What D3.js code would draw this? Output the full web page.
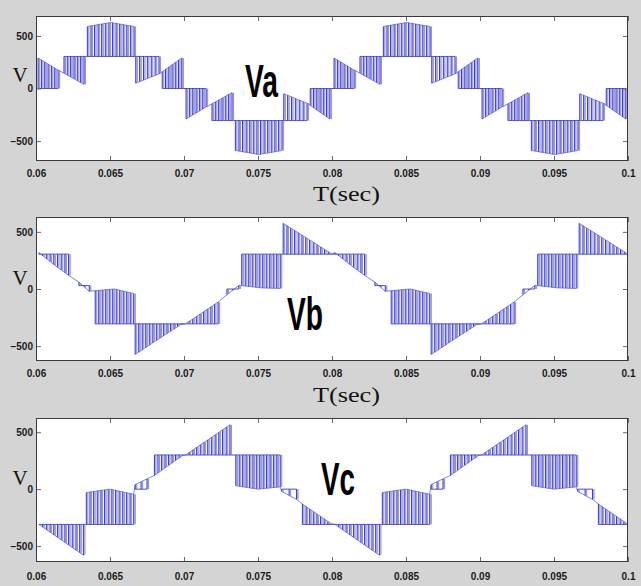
<!DOCTYPE html>
<html>
<head>
<meta charset="utf-8">
<script src="https://cdn.jsdelivr.net/npm/d3@7"></script>
<style>
  html, body { margin: 0; padding: 0; background: #d4d4d4; }
  svg { display: block; }
</style>
</head>
<body>
<svg id="chart" width="641" height="586"></svg>
<script>
// axis ticks
const xTicks = [0.06, 0.065, 0.07, 0.075, 0.08, 0.085, 0.09, 0.095, 0.1];
const yTicks = [-500, 0, 500];
// the switching pattern of one cycle (0.06-0.08 s) repeats in the next one
const periodStarts = [0, 0.02];

// each segment: [t start, t end, base level, tip at start, tip at middle, tip at end, pulses]
const vaSegments = [
  [0.06014, 0.06149, 0, 290, 233, 176, 7],
  [0.06189, 0.06324, 305, 146, 93, 40, 7],
  [0.06347, 0.06662, 305, 590, 628, 590, 14],
  [0.06674, 0.06831, 305, 50, 95, 140, 7],
  [0.06853, 0.06985, 0, 160, 225, 290, 7],
  [0.07014, 0.07149, 0, -290, -233, -176, 7],
  [0.07189, 0.07324, -305, -146, -93, -40, 7],
  [0.07347, 0.07662, -305, -590, -628, -590, 14],
  [0.07674, 0.07831, -305, -50, -95, -140, 7],
  [0.07853, 0.07985, 0, -160, -225, -290, 7],
];
const vbSegments = [
  [0.0602, 0.0622, 305, 318, 215, 120, 9],
  [0.0629, 0.0636, 30, 60, 20, -20, 3],
  [0.0640, 0.0666, -305, -15, 0, -40, 12],
  [0.0667, 0.0698, -305, -573, -440, -310, 14],
  [0.0701, 0.0723, -305, -305, -210, -115, 10],
  [0.0729, 0.0737, 0, -50, -10, 30, 3],
  [0.0739, 0.0765, 305, 30, 10, 5, 12],
  [0.0767, 0.0800, 305, 575, 440, 305, 14],
];
const vcSegments = [
  [0.0602, 0.0632, -310, -310, -445, -580, 13],
  [0.0634, 0.0666, -310, -30, 0, -45, 14],
  [0.0667, 0.0675, 0, 40, 65, 90, 3],
  [0.0680, 0.0699, 300, 120, 208, 295, 9],
  [0.0701, 0.0731, 300, 300, 432, 565, 13],
  [0.0735, 0.0765, 300, 30, 0, 20, 14],
  [0.0766, 0.0776, 0, -20, -55, -90, 3],
  [0.0780, 0.07996, -310, -130, -218, -305, 9],
];

const panels = [
  {name: 'Va', segments: vaSegments, top: 16, height: 145, domain: [-690, 690],
   title: [245, 97, 33], vY: 82, tickPad: 9, timeLabel: 201},
  {name: 'Vb', segments: vbSegments, top: 217, height: 144, domain: [-630, 630],
   title: [287, 330, 36], vY: 285, tickPad: 9, timeLabel: 402},
  {name: 'Vc', segments: vcSegments, top: 418, height: 144, domain: [-640, 625],
   title: [321, 495, 34], vY: 485, tickPad: 11, timeLabel: null},
];

const left = 36, right = 628;
const edgeGap = 1.6; // px between the rising and falling edge of a pulse
const svg = d3.select('#chart');
const x = d3.scaleLinear().domain([0.06, 0.1]).range([left, right]);
const fmt = d => String(+d.toFixed(3));

svg.append('rect').attr('width', 641).attr('height', 586).attr('fill', '#d4d4d4');

panels.forEach((p, i) => {
  const bottom = p.top + p.height;
  const y = d3.scaleLinear().domain(p.domain).range([bottom, p.top]);
  const g = svg.append('g');

  g.append('rect')
    .attr('x', left).attr('y', p.top)
    .attr('width', right - left).attr('height', p.height)
    .attr('fill', 'white');

  g.append('clipPath').attr('id', `clip${i}`)
    .append('rect')
    .attr('x', left).attr('y', p.top)
    .attr('width', right - left).attr('height', p.height);

  const segs = periodStarts.flatMap(off => p.segments.map(([t0, t1, base, a, m, b, n]) => ({
    t0: t0 + off, t1: t1 + off, base, n,
    knots: [[t0 + off, a], [(t0 + t1) / 2 + off, m], [t1 + off, b]],
    tip: d3.scaleLinear().domain([t0 + off, (t0 + t1) / 2 + off, t1 + off]).range([a, m, b]).clamp(true),
  })));

  const plot = g.append('g').attr('clip-path', `url(#clip${i})`);
  const line = d3.line().x(d => x(d[0])).y(d => y(d[1]));

  const pulses = segs.flatMap(s => d3.range(s.n).map(k => ({
    s, t: s.n > 1 ? s.t0 + k * (s.t1 - s.t0) / (s.n - 1) : s.t0,
  })));
  const tipAt = (d, dx) => y(d.s.tip(x.invert(x(d.t) + dx)));

  // light fill between the two edges of each pulse
  plot.selectAll('path.pulse')
    .data(pulses)
    .join('path')
    .attr('class', 'pulse')
    .attr('d', d => {
      const x0 = x(d.t), yb = y(d.s.base);
      return `M${x0},${yb}L${x0},${tipAt(d, 0)}L${x0 + edgeGap},${tipAt(d, edgeGap)}L${x0 + edgeGap},${yb}Z`;
    })
    .attr('fill', '#c4c4f6')
    .attr('stroke', 'none');

  // base levels and tip curves
  const bases = [], tips = [];
  segs.forEach((s, j) => {
    bases.push([[s.t0, s.base], [s.t1, s.base]]);
    tips.push(s.knots);
    const next = segs[j + 1];
    if (!next) return;
    if (next.base === s.base) bases.push([[s.t1, s.base], [next.t0, next.base]]);
    const endTip = s.tip(s.t1), startTip = next.tip(next.t0);
    if (Math.abs(endTip - startTip) < 120) tips.push([[s.t1, endTip], [next.t0, startTip]]);
  });
  plot.selectAll('path.tip')
    .data(tips)
    .join('path')
    .attr('class', 'tip')
    .attr('d', line)
    .attr('fill', 'none')
    .attr('stroke', '#7272e2')
    .attr('stroke-width', 0.9);
  plot.selectAll('path.base')
    .data(bases)
    .join('path')
    .attr('class', 'base')
    .attr('d', line)
    .attr('fill', 'none')
    .attr('stroke', '#4a4acc')
    .attr('stroke-width', 1);

  // switching pulses: a dark rising edge and a lighter falling edge
  plot.selectAll('line.fall')
    .data(pulses)
    .join('line')
    .attr('class', 'fall')
    .attr('x1', d => x(d.t) + edgeGap).attr('x2', d => x(d.t) + edgeGap)
    .attr('y1', d => y(d.s.base))
    .attr('y2', d => tipAt(d, edgeGap))
    .attr('stroke', '#8e8eee')
    .attr('stroke-width', 1);
  plot.selectAll('line.rise')
    .data(pulses)
    .join('line')
    .attr('class', 'rise')
    .attr('x1', d => x(d.t)).attr('x2', d => x(d.t))
    .attr('y1', d => y(d.s.base))
    .attr('y2', d => tipAt(d, 0))
    .attr('stroke', '#3a3abc')
    .attr('stroke-width', 1);

  // axes, MATLAB style with inward ticks on all four sides
  const styleAxis = sel => {
    sel.select('.domain').remove();
    sel.selectAll('.tick line').attr('stroke', '#6a6a6a');
    sel.selectAll('.tick text')
      .attr('fill', '#1a1a1a')
      .style('font-family', '"Liberation Sans Narrow", "Arial Narrow", sans-serif')
      .style('font-weight', 'bold')
      .style('font-size', '10px');
  };
  g.append('g').attr('transform', `translate(0,${bottom})`)
    .call(d3.axisBottom(x).tickValues(xTicks).tickSize(-5).tickPadding(p.tickPad).tickFormat(fmt))
    .call(styleAxis);
  g.append('g').attr('transform', `translate(0,${p.top})`)
    .call(d3.axisTop(x).tickValues(xTicks).tickSize(-5).tickFormat(''))
    .call(styleAxis);
  g.append('g').attr('transform', `translate(${left},0)`)
    .call(d3.axisLeft(y).tickValues(yTicks).tickSize(-5).tickPadding(3).tickFormat(d3.format('d')))
    .call(styleAxis)
    .call(a => a.selectAll('.tick text').style('font-family', '"Liberation Sans", Arial, sans-serif'));
  g.append('g').attr('transform', `translate(${right},0)`)
    .call(d3.axisRight(y).tickValues(yTicks).tickSize(-5).tickFormat(''))
    .call(styleAxis);

  g.append('rect')
    .attr('x', left + 0.5).attr('y', p.top + 0.5)
    .attr('width', right - left - 1).attr('height', p.height - 1)
    .attr('fill', 'none')
    .attr('stroke', '#3a3a3a');

  // labels
  g.append('text')
    .attr('x', 12.5).attr('y', p.vY)
    .style('font-family', '"Liberation Serif", "Times New Roman", serif')
    .style('font-size', '21px')
    .attr('fill', '#111')
    .text('V');

  if (p.timeLabel) {
    g.append('text')
      .attr('x', 313).attr('y', p.timeLabel)
      .attr('textLength', 67).attr('lengthAdjust', 'spacingAndGlyphs')
      .style('font-family', '"Liberation Serif", "Times New Roman", serif')
      .style('font-size', '21px')
      .attr('fill', '#111')
      .text('T(sec)');
  }

  g.append('text')
    .attr('x', p.title[0]).attr('y', p.title[1])
    .attr('textLength', p.title[2]).attr('lengthAdjust', 'spacingAndGlyphs')
    .style('font-family', '"Liberation Sans Narrow", "Liberation Sans", Arial, sans-serif')
    .style('font-weight', 'bold')
    .style('font-size', '47px')
    .attr('fill', '#000')
    .text(p.name);
});
</script>
</body>
</html>
